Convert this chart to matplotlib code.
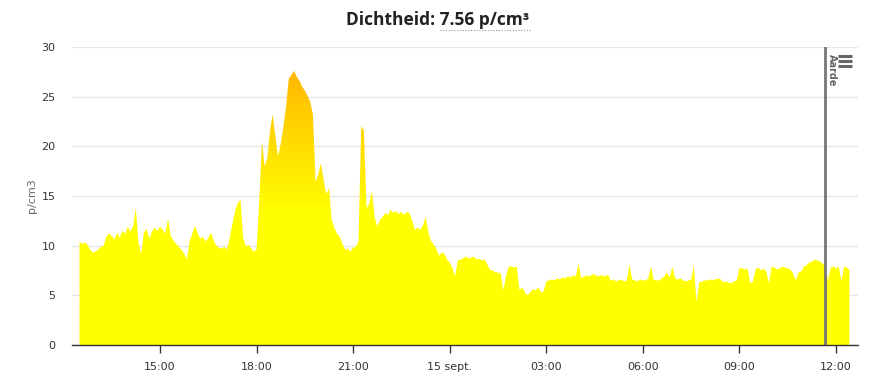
import numpy as np
import pandas as pd
import matplotlib
matplotlib.use("Agg")
import matplotlib.pyplot as plt
import matplotlib.dates as mdates
from matplotlib.colors import LinearSegmentedColormap
from matplotlib.lines import Line2D

# 5-minute density readings, 14 sept 12:30 -> 15 sept 12:25
start = "2017-09-14 12:30"
density = [
    10.4, 10.2, 10.3, 10.1, 9.6, 9.3, 9.4, 9.6, 9.9, 10.0, 10.9, 11.2,
    11.0, 10.6, 11.3, 10.8, 11.5, 11.2, 11.9, 11.4, 12.0, 13.8, 10.2, 9.2,
    11.3, 11.7, 10.7, 11.4, 11.8, 11.5, 11.9, 11.6, 11.2, 12.7, 11.0, 10.5,
    10.2, 9.9, 9.6, 9.2, 8.6, 10.4, 11.2, 12.0, 11.3, 10.7, 10.9, 10.4,
    10.8, 11.3, 10.5, 10.0, 9.8, 9.7, 9.9, 9.6, 10.8, 12.2, 13.5, 14.3,
    14.6, 10.8, 9.9, 10.1, 9.7, 9.4, 9.6, 14.5, 20.5, 18.0, 18.8, 21.5,
    23.2, 21.0, 19.0, 20.2, 22.0, 24.0, 26.8, 27.2, 27.6, 27.0, 26.6, 26.0,
    25.6, 25.1, 24.5, 23.2, 16.4, 17.2, 18.3, 16.6, 15.2, 15.8, 12.6, 11.8,
    11.2, 10.9, 10.2, 9.6, 9.7, 9.4, 9.8, 9.9, 10.4, 22.0, 21.6, 13.8,
    14.2, 15.5, 12.9, 11.9, 12.6, 12.9, 13.3, 13.1, 13.6, 13.3, 13.5, 13.2,
    13.4, 13.1, 13.4, 13.3, 12.5, 11.6, 11.8, 11.6, 12.0, 12.9, 11.4, 10.5,
    10.1, 9.7, 9.0, 9.3, 9.2, 8.6, 8.3, 7.8, 6.9, 8.5, 8.6, 8.7,
    8.9, 8.7, 8.8, 8.9, 8.6, 8.7, 8.5, 8.6, 8.1, 7.6, 7.5, 7.3,
    7.3, 7.2, 5.5, 7.0, 7.9, 7.9, 7.8, 7.9, 5.5, 5.8, 5.3, 5.0,
    5.3, 5.6, 5.5, 5.8, 5.3, 5.4, 6.4, 6.5, 6.6, 6.5, 6.7, 6.6,
    6.8, 6.7, 6.9, 6.8, 7.0, 6.9, 8.2, 6.7, 6.9, 7.0, 6.9, 7.1,
    7.1, 6.9, 7.0, 7.0, 6.9, 7.1, 6.5, 6.6, 6.4, 6.5, 6.6, 6.4,
    6.5, 8.1, 6.6, 6.5, 6.4, 6.6, 6.5, 6.5, 6.7, 7.9, 6.6, 6.5,
    6.5, 6.7, 6.9, 7.3, 6.8, 7.9, 6.7, 6.6, 6.7, 6.5, 6.4, 6.5,
    6.6, 8.0, 4.3, 6.3, 6.4, 6.5, 6.5, 6.6, 6.5, 6.6, 6.7, 6.6,
    6.3, 6.4, 6.3, 6.2, 6.4, 6.5, 7.8, 7.7, 7.6, 7.7, 6.2, 6.4,
    7.6, 7.8, 7.5, 7.7, 7.4, 6.2, 7.9, 7.8, 7.6, 7.7, 7.9, 7.8,
    7.7, 7.6, 7.2, 6.5, 7.3, 7.4, 7.9, 8.0, 8.3, 8.4, 8.6, 8.5,
    8.4, 8.2, 7.9, 6.5, 7.8, 7.9, 7.7, 7.9, 6.4, 7.9, 7.8, 7.56,
]
times = pd.date_range(start, periods=len(density), freq="5min")

tick_times = pd.date_range("2017-09-14 15:00", periods=8, freq="3h")
tick_labels = ["15:00", "18:00", "21:00", "15 sept.", "03:00", "06:00", "09:00", "12:00"]
y_ticks = [0, 5, 10, 15, 20, 25, 30]

marker_time = pd.Timestamp("2017-09-15 11:39")
marker_label = "Aarde"
current = "7.56"

fig = plt.figure(figsize=(8.76, 3.76), dpi=100)
ax = fig.add_axes([0.0822, 0.0824, 0.8973, 0.7926])

x = mdates.date2num(times)
y = np.array(density)
x0 = mdates.date2num(pd.Timestamp("2017-09-14 12:16"))
x1 = mdates.date2num(pd.Timestamp("2017-09-15 12:41"))

# yellow -> orange gradient by value, clipped to the area
cmap = LinearSegmentedColormap.from_list(
    "dens", [(0, "#ffff00"), (0.45, "#ffff00"), (1.0, "#ffaa00")])
fill = ax.fill_between(x, 0, y, facecolor="none", edgecolor="none")
grad = np.linspace(0, 1, 256).reshape(-1, 1)
im = ax.imshow(grad, cmap=cmap, origin="lower", aspect="auto",
               extent=[x0, x1, 0, 30], zorder=2)
im.set_clip_path(fill.get_paths()[0], transform=ax.transData)

ax.set_xlim(x0, x1)
ax.set_ylim(0, 30)

ax.set_yticks(y_ticks)
ax.set_yticklabels([str(v) for v in y_ticks])
ax.set_xticks(mdates.date2num(tick_times))
ax.set_xticklabels(tick_labels)
ax.tick_params(axis="y", length=0, labelsize=8, labelcolor="#333333", pad=12)
ax.tick_params(axis="x", length=6, width=1, color="#333333", labelsize=8,
               labelcolor="#333333", pad=6)
ax.grid(axis="y", color="#e6e6e6", linewidth=1)
ax.set_axisbelow(True)
for side in ["top", "right", "left"]:
    ax.spines[side].set_visible(False)
ax.spines["bottom"].set_color("#333333")
ax.spines["bottom"].set_linewidth(1)
ax.spines["bottom"].set_zorder(5)
ax.set_ylabel("p/cm3", fontsize=8, color="#666666", labelpad=3)

# plot line marker
ax.axvline(mdates.date2num(marker_time), color="#777777", linewidth=2, zorder=4)
ax.text(mdates.date2num(marker_time) + 0.003, 29.3, marker_label, rotation=-90,
        ha="left", va="top", fontsize=7, color="#666666", fontweight="bold",
        zorder=5)

# title with dotted underline on the value
title_fs = 12.5
t = fig.text(0.5, 0.948, f"Dichtheid: {current} p/cm³", ha="center", va="center",
             fontsize=title_fs, fontweight="bold", color="#222222",
             family=["Open Sans", "DejaVu Sans"])
renderer = fig.canvas.get_renderer()
bb = t.get_window_extent(renderer)
tmp = fig.text(0, 0, "Dichtheid: ", fontsize=title_fs, fontweight="bold",
               family=["Open Sans", "DejaVu Sans"])
w_pre = tmp.get_window_extent(renderer).width
tmp.remove()
W, H = fig.bbox.width, fig.bbox.height
fig.add_artist(Line2D([(bb.x0 + w_pre) / W, bb.x1 / W], [1 - 30 / 376] * 2,
                      color="#999999", linewidth=0.8, linestyle=(0, (1, 1.5))))

# menu icon
for yy in [56, 61, 66]:
    fig.add_artist(Line2D([838 / W, 852 / W], [1 - yy / H] * 2,
                          color="#666666", linewidth=2.2, solid_capstyle="butt"))

fig.savefig("out.png", dpi=100)
